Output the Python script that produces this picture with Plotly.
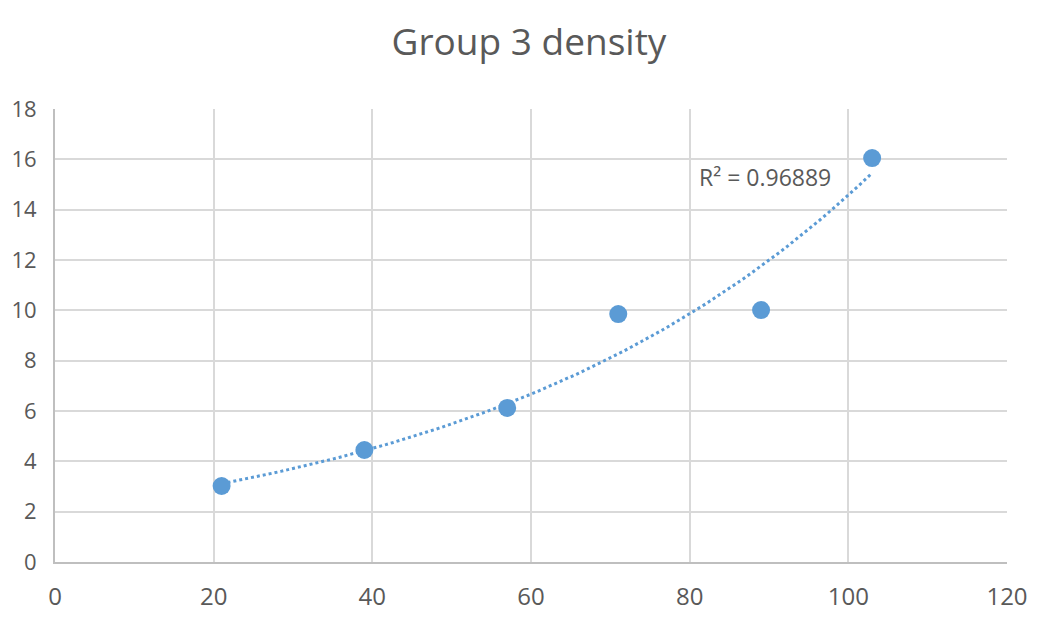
import numpy as np
import plotly.graph_objects as go

x_vals = [21, 39, 57, 71, 89, 103]
y_vals = [3.02, 4.45, 6.12, 9.85, 10.01, 16.05]
r2_label = 'R² = 0.96889'

# exponential trendline, fitted the way Excel does (linear fit on ln y)
b, a = np.polyfit(x_vals, np.log(y_vals), 1)
trend_x = np.linspace(min(x_vals), max(x_vals), 100)
trend_y = np.exp(a + b * trend_x)

blue = '#5b9bd5'
grey_text = '#595959'

fig = go.Figure()
fig.add_trace(go.Scatter(x=trend_x, y=trend_y, mode='lines',
                         line=dict(color=blue, width=3, dash='dot'),
                         hoverinfo='skip', showlegend=False))
fig.add_trace(go.Scatter(x=x_vals, y=y_vals, mode='markers',
                         marker=dict(color=blue, size=18),
                         showlegend=False))

fig.add_annotation(x=89.5, y=15.3, text=r2_label, showarrow=False,
                   font=dict(size=23, color=grey_text))

fig.update_layout(
    title=dict(text='Group 3 density', x=0.5, xanchor='center',
               y=0.946, yanchor='middle',
               font=dict(size=37, color=grey_text)),
    width=1042, height=628,
    margin=dict(l=47, r=43, t=101, b=74),
    plot_bgcolor='white', paper_bgcolor='white',
    font=dict(family='Open Sans', color=grey_text),
)
fig.update_xaxes(range=[0, 120], dtick=20, showgrid=True, gridcolor='#d9d9d9',
                 gridwidth=2, zeroline=False, showline=True, linecolor='#bfbfbf',
                 linewidth=2, ticks='outside', ticklen=12, tickcolor='white',
                 automargin=False, tickfont=dict(size=24, color=grey_text))
fig.update_yaxes(range=[0, 18], dtick=2, showgrid=True, gridcolor='#d9d9d9',
                 gridwidth=2, zeroline=False, showline=True, linecolor='#bfbfbf',
                 linewidth=2, ticks='outside', ticklen=12, tickcolor='rgba(0,0,0,0)',
                 automargin=False, tickfont=dict(size=22, color=grey_text))

fig.write_html('out.html')
